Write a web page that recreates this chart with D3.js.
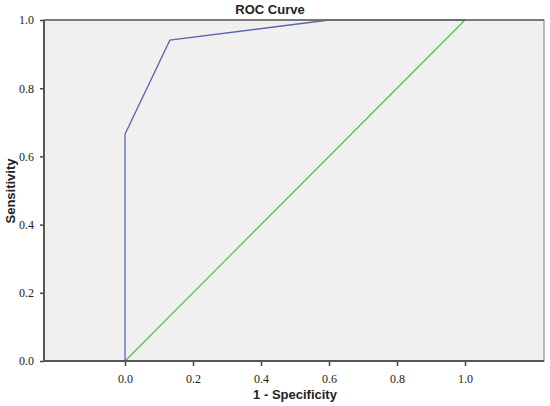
<!DOCTYPE html>
<html>
<head>
<meta charset="utf-8">
<script src="https://cdn.jsdelivr.net/npm/d3@7"></script>
<style>
  body { margin: 0; background: #fff; }
  svg { display: block; }
</style>
</head>
<body>
<div id="chart"></div>
<script>
// ROC curve points (1 - specificity, sensitivity)
const rocFpr = [0, 0, 0.132, 0.6, 1.0];
const rocTpr = [0, 0.665, 0.941, 1.0, 1.0];
// reference diagonal
const refLine = [0, 1];
const tickValues = [0, 0.2, 0.4, 0.6, 0.8, 1.0];

const W = 550, H = 406;
const plot = { left: 44, right: 544, top: 20, bottom: 361 };

const svg = d3.select("#chart").append("svg")
  .attr("width", W)
  .attr("height", H);

// x: 0 -> 125px, 1 -> 465px
const x = d3.scaleLinear()
  .domain([(plot.left - 125) / 340, (plot.right - 125) / 340])
  .range([plot.left, plot.right]);
const y = d3.scaleLinear()
  .domain([0, 1])
  .range([plot.bottom, plot.top]);

// plot background
svg.append("rect")
  .attr("x", plot.left)
  .attr("y", plot.top)
  .attr("width", plot.right - plot.left)
  .attr("height", plot.bottom - plot.top)
  .attr("fill", "#f0f0f0")
  .attr("stroke", "#8c8c8c")
  .attr("stroke-width", 1.2);

// diagonal reference
svg.append("line")
  .attr("x1", x(refLine[0])).attr("y1", y(refLine[0]))
  .attr("x2", x(refLine[1])).attr("y2", y(refLine[1]))
  .attr("stroke", "#3fc23f")
  .attr("stroke-width", 1.1);

// roc curve
const pts = rocFpr.map((f, i) => [f, rocTpr[i]]);
svg.append("path")
  .datum(pts)
  .attr("fill", "none")
  .attr("stroke", "#5a67b0")
  .attr("stroke-width", 1.3)
  .attr("d", d3.line().x(d => x(d[0])).y(d => y(d[1])));

// axes
const xAxis = svg.append("g")
  .attr("transform", `translate(0,${plot.bottom})`)
  .call(d3.axisBottom(x).tickValues(tickValues).tickSize(5).tickFormat(d3.format(".1f")));
const yAxis = svg.append("g")
  .attr("transform", `translate(${plot.left},0)`)
  .call(d3.axisLeft(y).tickValues(tickValues).tickSize(4).tickFormat(d3.format(".1f")));

[xAxis, yAxis].forEach(g => {
  g.attr("font-family", null).attr("font-size", null);
  g.select(".domain").remove();
  g.selectAll(".tick line").attr("stroke", "#444").attr("stroke-width", 1.5);
  g.selectAll(".tick text")
    .attr("fill", "#222")
    .attr("font-family", "'Times New Roman', 'Liberation Serif', serif")
    .attr("font-size", 12);
});
xAxis.selectAll(".tick text").attr("dy", "1.2em");
yAxis.selectAll(".tick text").attr("x", -10);

// heavier left and bottom axis lines
svg.append("line")
  .attr("x1", plot.left).attr("y1", plot.top)
  .attr("x2", plot.left).attr("y2", plot.bottom + 1)
  .attr("stroke", "#555").attr("stroke-width", 2);
svg.append("line")
  .attr("x1", plot.left - 1).attr("y1", plot.bottom)
  .attr("x2", plot.right).attr("y2", plot.bottom)
  .attr("stroke", "#555").attr("stroke-width", 2);
svg.append("line")
  .attr("x1", plot.left).attr("y1", plot.top)
  .attr("x2", plot.right).attr("y2", plot.top)
  .attr("stroke", "#666").attr("stroke-width", 1.5);

// titles
const labelFont = "'Liberation Sans', Arial, sans-serif";
svg.append("text")
  .attr("x", 270).attr("y", 14)
  .attr("text-anchor", "middle")
  .style("font-family", labelFont)
  .style("font-weight", "bold")
  .style("font-size", "13px")
  .attr("fill", "#222")
  .text("ROC Curve");

svg.append("text")
  .attr("x", 295).attr("y", 399)
  .attr("text-anchor", "middle")
  .style("font-family", labelFont)
  .style("font-weight", "bold")
  .style("font-size", "13px")
  .attr("fill", "#222")
  .text("1 - Specificity");

svg.append("text")
  .attr("transform", "translate(15,191) rotate(-90)")
  .attr("text-anchor", "middle")
  .style("font-family", labelFont)
  .style("font-weight", "bold")
  .style("font-size", "13px")
  .attr("fill", "#222")
  .text("Sensitivity");
</script>
</body>
</html>
